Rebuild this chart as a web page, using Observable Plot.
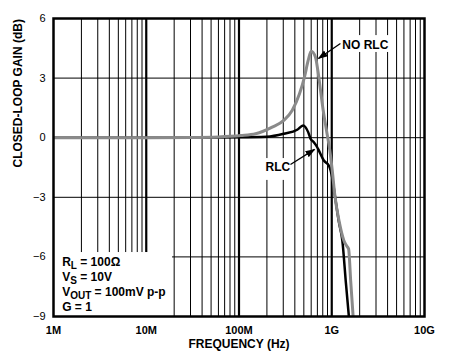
<!DOCTYPE html>
<html><head><meta charset="utf-8">
<style>
body{margin:0;background:#fff;}
svg{font-family:"Liberation Sans",Arial,sans-serif;}
</style>
<script src="https://cdn.jsdelivr.net/npm/d3@7"></script>
<script src="https://cdn.jsdelivr.net/npm/@observablehq/plot@0.6"></script>
</head><body><div id="chart"></div>
<script>
// ---- data ----
const freqNoRLC = [1e6, 1e7, 3e7, 6e7, 1.04e8, 1.51e8, 2.28e8, 3.04e8, 3.74e8, 4.49e8, 5.08e8, 5.57e8, 6.0e8, 6.68e8, 7.08e8, 7.57e8, 8.09e8, 8.78e8, 9.53e8, 1.01e9, 1.08e9, 1.2e9, 1.35e9, 1.45e9, 1.52e9, 1.6e9, 1.7e9];
const gainNoRLC = [0, 0, 0.01, 0.04, 0.11, 0.2, 0.53, 0.87, 1.37, 2.21, 3.05, 3.89, 4.35, 4.05, 3.38, 2.38, 1.37, 0.36, -0.64, -1.6, -2.9, -4.2, -5.17, -5.45, -5.6, -7.2, -9];
const freqRLC = [1e6, 1e7, 1e8, 2e8, 3.04e8, 4.24e8, 4.92e8, 5.57e8, 5.9e8, 6.41e8, 6.97e8, 7.25e8, 8.21e8, 9.29e8, 1.01e9, 1.08e9, 1.2e9, 1.3e9, 1.42e9, 1.53e9];
const gainRLC = [0, 0, 0.02, 0.05, 0.2, 0.4, 0.62, 0.28, -0.05, -0.23, -0.48, -0.64, -1.15, -1.4, -1.99, -2.9, -4.3, -5.17, -7.3, -9];
const xTickValues = [1e6, 1e7, 1e8, 1e9, 1e10];
const xTickLabels = ["1M", "10M", "100M", "1G", "10G"];
const yTickValues = [-9, -6, -3, 0, 3, 6];
const xTitle = "FREQUENCY (Hz)";
const yTitle = "CLOSED-LOOP GAIN (dB)";
const seriesNames = ["NO RLC", "RLC"];
const conditions = ["R{L} = 100Ω", "V{S} = 10V", "V{OUT} = 100mV p-p", "G = 1"];

// ---- derived tables ----
const noRLC = freqNoRLC.map((f, i) => ({f, g: gainNoRLC[i]}));
const rlc = freqRLC.map((f, i) => ({f, g: gainRLC[i]}));
const majorGrid = [1e7, 1e8, 1e9];
const minorGrid = [];
for (const d of [1e6, 1e7, 1e8, 1e9]) for (let k = 2; k <= 9; k++) minorGrid.push(k * d);
const hGrid = [-6, -3, 0, 3];

// annotation layout (data units)
const labelBoxes = [
  {x1: 1e6, x2: 1.92e7, y1: -9, y2: -5.78},
  {x1: 1.15e9, x2: 4.4e9, y1: 4.29, y2: 5.14},
  {x1: 1.79e8, x2: 3.78e8, y1: -2.15, y2: -1.05}
];
const seriesLabels = [
  {x: 1.30e9, y: 4.64, t: seriesNames[0]},
  {x: 1.93e8, y: -1.5, t: seriesNames[1]}
];
const arrows = [
  {x1: 1.24e9, y1: 4.74, x2: 7.2e8, y2: 3.99},
  {x1: 3.59e8, y1: -1.35, x2: 6.52e8, y2: -0.59}
];
const condRows = conditions.map((t, i) => ({t, x: 1.24e6, y: -6.28 - i * 0.755}));

function filledArrow(color) {
  const ns = "http://www.w3.org/2000/svg";
  const m = document.createElementNS(ns, "marker");
  m.setAttribute("viewBox", "-9 -5 10 10");
  m.setAttribute("markerWidth", "10");
  m.setAttribute("markerHeight", "10");
  m.setAttribute("markerUnits", "userSpaceOnUse");
  m.setAttribute("orient", "auto");
  m.setAttribute("refX", "0");
  m.setAttribute("refY", "0");
  const p = document.createElementNS(ns, "path");
  p.setAttribute("d", "M-9,-3.5L1,0L-9,3.5Z");
  p.setAttribute("fill", "black");
  p.setAttribute("stroke", "none");
  m.appendChild(p);
  return m;
}

const minus = d => d < 0 ? "\u2212" + Math.abs(d) : String(d);

const svg = Plot.plot({
  width: 452, height: 360,
  marginLeft: 53, marginRight: 28, marginTop: 18, marginBottom: 44,
  style: {fontFamily: '"Liberation Sans", Arial, sans-serif', background: "#fff"},
  x: {type: "log", domain: [1e6, 1e10], label: null},
  y: {domain: [-9, 6], label: null},
  marks: [
    Plot.ruleX(minorGrid, {stroke: "#000", strokeWidth: 1}),
    Plot.ruleX(majorGrid, {stroke: "#000", strokeWidth: 2.2}),
    Plot.ruleY(hGrid, {stroke: "#000", strokeWidth: 1}),
    Plot.rect(labelBoxes, {x1: "x1", x2: "x2", y1: "y1", y2: "y2", fill: "#fff"}),
    Plot.line(rlc, {x: "f", y: "g", stroke: "#000", strokeWidth: 2.5, curve: "monotone-x", clip: true}),
    Plot.line(noRLC, {x: "f", y: "g", stroke: "#8a8a8a", strokeWidth: 3, curve: "monotone-x", clip: true}),
    Plot.link(arrows, {x1: "x1", y1: "y1", x2: "x2", y2: "y2", stroke: "#000", strokeWidth: 1.3, markerEnd: filledArrow}),
    Plot.text(seriesLabels, {x: "x", y: "y", text: "t", textAnchor: "start", fontSize: 12, fontWeight: "bold", fill: "#000"}),
    Plot.text(condRows, {x: "x", y: "y", text: "t", textAnchor: "start", fontSize: 12, fontWeight: "bold", fill: "#000"}),
    Plot.axisX(xTickValues, {tickSize: 0, tickPadding: 10, fontSize: 11, fontWeight: "bold", tickFormat: d => xTickLabels[xTickValues.indexOf(d)], label: null}),
    Plot.axisY(yTickValues, {tickSize: 0, tickPadding: 8, fontSize: 11, tickFormat: minus, label: null}),
    Plot.text([xTitle], {frameAnchor: "bottom", dy: 31, fontSize: 12, fontWeight: "bold", fill: "#000"}),
    Plot.text([yTitle], {frameAnchor: "left", rotate: -90, dx: -35, fontSize: 12, fontWeight: "bold", fill: "#000"}),
    Plot.frame({stroke: "#000", strokeWidth: 2.5})
  ]
});

// subscripts in the condition labels
d3.select(svg).selectAll("text").each(function () {
  const el = d3.select(this);
  if (el.selectAll("tspan").size() > 0) return;
  const t = el.text();
  if (!t.includes("{")) return;
  el.text(null);
  const parts = t.split(/\{([^}]*)\}/);
  parts.forEach((p, i) => {
    if (!p) return;
    const ts = el.append("tspan").text(p);
    if (i % 2 === 1) ts.attr("dy", 3).attr("font-size", 10);
    else if (i > 0) ts.attr("dy", -3);
  });
});

document.getElementById("chart").appendChild(svg);
</script>
</body></html>
